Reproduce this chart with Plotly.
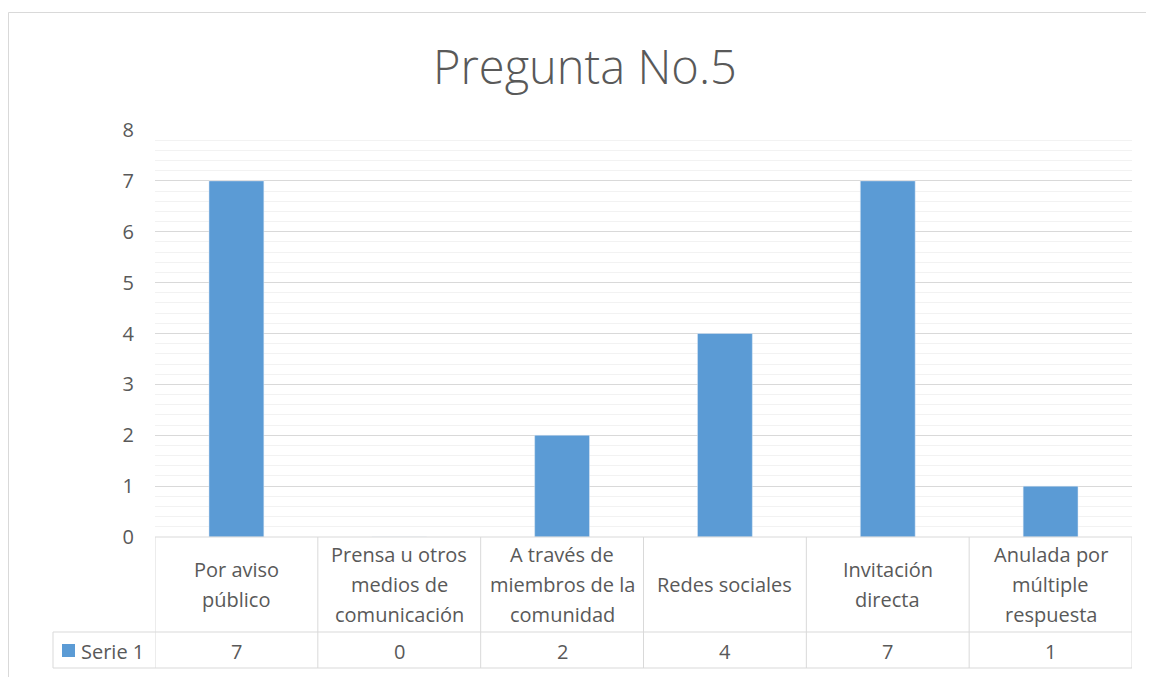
import plotly.graph_objects as go

# data
categories = ["Por aviso público", "Prensa u otros medios de comunicación",
              "A través de miembros de la comunidad", "Redes sociales",
              "Invitación directa", "Anulada por múltiple respuesta"]
header_lines = [["Por aviso", "público"],
                ["Prensa u otros", "medios de", "comunicación"],
                ["A través de", "miembros de la", "comunidad"],
                ["Redes sociales"],
                ["Invitación", "directa"],
                ["Anulada por", "múltiple", "respuesta"]]
serie_1 = [7, 0, 2, 4, 7, 1]
series_name = "Serie 1"
title_text = "Pregunta No.5"

OFF = 8  # page body margin
W_FIG, H_FIG = 1154 - OFF, 677 - OFF
L, R, T, B = 155, 1132, 130, 537  # plot area in window pixels
TEXT = "#595959"
GRID = "#D9D9D9"
FONT = "Open Sans"
FS = 20


def px_x(px):
    return (px - L) / (R - L)


def px_y(py):
    return (B - py) / (B - T)


fig = go.Figure()
fig.add_trace(go.Bar(x=categories, y=serie_1, name=series_name,
                     marker_color="#5B9BD5", showlegend=False))

shapes = []
line = dict(color=GRID, width=1)
# chart border
shapes.append(dict(type="rect", xref="paper", yref="paper",
                   x0=px_x(8.5), x1=px_x(1170), y0=px_y(700), y1=px_y(12.5), line=line))
# data table
row1, row2 = 632, 668
shapes.append(dict(type="line", xref="x", yref="paper", x0=-0.5, x1=len(categories) - 0.5,
                   y0=px_y(B), y1=px_y(B), line=line))
for yy in (row1, row2):
    shapes.append(dict(type="line", xref="paper", yref="paper", x0=px_x(53), x1=1,
                       y0=px_y(yy), y1=px_y(yy), line=line))
for i in range(len(categories) + 1):
    shapes.append(dict(type="line", xref="x", yref="paper", x0=i - 0.5, x1=i - 0.5,
                       y0=px_y(B), y1=px_y(row2), line=line))
shapes.append(dict(type="line", xref="paper", yref="paper", x0=px_x(53), x1=px_x(53),
                   y0=px_y(row1), y1=px_y(row2), line=line))
# legend key
shapes.append(dict(type="rect", xref="paper", yref="paper", x0=px_x(62), x1=px_x(75),
                   y0=px_y(657), y1=px_y(644), line=dict(width=0), fillcolor="#5B9BD5"))

annotations = []
for cat, lines_ in zip(categories, header_lines):
    n = len(lines_)
    for j, t in enumerate(lines_):
        yc = 584.5 + (j - (n - 1) / 2) * 30
        annotations.append(dict(x=cat, y=px_y(yc), xref="x", yref="paper", text=t,
                                showarrow=False, font=dict(size=FS, color=TEXT, family=FONT),
                                xanchor="center", yanchor="middle"))
for cat, v in zip(categories, serie_1):
    annotations.append(dict(x=cat, y=px_y(651), xref="x", yref="paper", text=str(v),
                            showarrow=False, font=dict(size=FS, color=TEXT, family=FONT),
                            xanchor="center", yanchor="middle"))
annotations.append(dict(x=px_x(79), y=px_y(651), xref="paper", yref="paper", text=series_name,
                        showarrow=False, font=dict(size=FS, color=TEXT, family=FONT),
                        xanchor="left", yanchor="middle"))

fig.update_layout(
    width=W_FIG, height=H_FIG,
    margin=dict(l=L - OFF, r=W_FIG - (R - OFF), t=T - OFF, b=H_FIG - (B - OFF)),
    paper_bgcolor="white", plot_bgcolor="white",
    title=dict(text=title_text, x=(585 - OFF) / W_FIG, xanchor="center",
               y=1 - (68 - OFF) / H_FIG, yanchor="middle",
               font=dict(size=47, color=TEXT, family=FONT, weight=300)),
    bargap=0.663,
    shapes=shapes, annotations=annotations,
    font=dict(family=FONT, color=TEXT),
)
fig.update_xaxes(range=[-0.5, len(categories) - 0.5], showticklabels=False,
                 showgrid=False, showline=False, zeroline=False, fixedrange=True)
fig.update_yaxes(range=[0, 8], dtick=1, showgrid=True, gridcolor=GRID, gridwidth=1,
                 zeroline=False, showline=False, ticks="", ticklabelstandoff=20,
                 tickfont=dict(size=FS, color=TEXT, family=FONT),
                 minor=dict(dtick=0.2, showgrid=True, gridcolor="#F2F2F2", gridwidth=1))

fig.write_html("out.html")
